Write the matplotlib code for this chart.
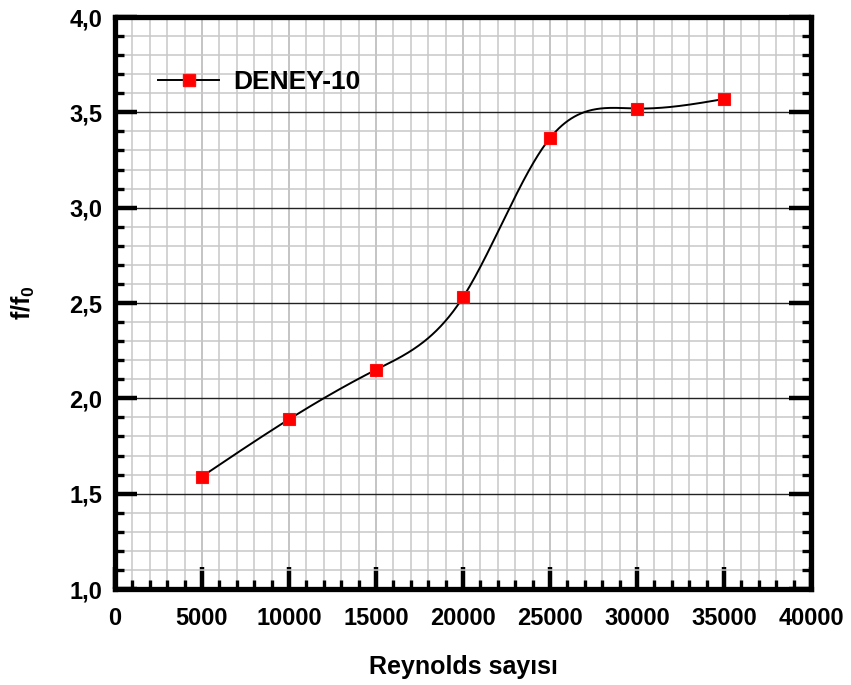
import numpy as np
import matplotlib
matplotlib.use("Agg")
import matplotlib.pyplot as plt
from matplotlib.ticker import MultipleLocator, FuncFormatter

plt.rcParams['font.family'] = ['Liberation Sans', 'DejaVu Sans']
plt.rcParams['mathtext.default'] = 'regular'

reynolds = [5000, 10000, 15000, 20000, 25000, 30000, 35000]
f_ratio = [1.59, 1.89, 2.15, 2.53, 3.365, 3.52, 3.57]
series_name = "DENEY-10"
x_label = "Reynolds sayısı"
y_label = "f/f$_0$"


def natural_spline(x, y, xs):
    x = np.asarray(x, float); y = np.asarray(y, float)
    n = len(x); h = np.diff(x)
    A = np.zeros((n, n)); b = np.zeros(n)
    A[0, 0] = 1; A[-1, -1] = 1
    for i in range(1, n - 1):
        A[i, i - 1] = h[i - 1]; A[i, i] = 2 * (h[i - 1] + h[i]); A[i, i + 1] = h[i]
        b[i] = 6 * ((y[i + 1] - y[i]) / h[i] - (y[i] - y[i - 1]) / h[i - 1])
    M = np.linalg.solve(A, b)
    idx = np.clip(np.searchsorted(x, xs) - 1, 0, n - 2)
    x0 = x[idx]; x1 = x[idx + 1]; hh = h[idx]
    return (M[idx] * (x1 - xs) ** 3 / (6 * hh) + M[idx + 1] * (xs - x0) ** 3 / (6 * hh)
            + (y[idx] / hh - M[idx] * hh / 6) * (x1 - xs)
            + (y[idx + 1] / hh - M[idx + 1] * hh / 6) * (xs - x0))


fig = plt.figure(figsize=(8.51, 6.85), dpi=100)
ax = fig.add_axes([115 / 851, 1 - 589 / 685, 696 / 851, 572 / 685])

ax.set_xlim(0, 40000)
ax.set_ylim(1.0, 4.0)

ax.xaxis.set_major_locator(MultipleLocator(5000))
ax.xaxis.set_minor_locator(MultipleLocator(1000))
ax.yaxis.set_major_locator(MultipleLocator(0.5))
ax.yaxis.set_minor_locator(MultipleLocator(0.1))
ax.grid(which='minor', color='#c8c8c8', lw=1.1)
ax.grid(which='major', axis='x', color='#b4b4b4', lw=1.1)
ax.grid(which='major', axis='y', color='#222222', lw=1.0)
ax.set_axisbelow(True)

xs = np.linspace(min(reynolds), max(reynolds), 500)
ax.plot(xs, natural_spline(reynolds, f_ratio, xs), color='black', lw=1.4, zorder=3)
ax.plot(reynolds, f_ratio, ls='none', marker='s', ms=8.5, mfc='#ff0000', mec='#ff1010', mew=0.8, zorder=4)

ax.plot([], [], color='black', lw=1.4, marker='s', ms=8.5, mfc='#ff0000', mec='#ff1010', label=series_name)
ax.legend(loc='upper left', bbox_to_anchor=(0.028, 0.948), frameon=False,
          prop={'weight': 'bold', 'size': 19}, handlelength=2.3, handletextpad=0.55)

for s in ax.spines.values():
    s.set_linewidth(3.8)

ax.tick_params(which='major', direction='in', length=16, width=3.2, right=True, top=False,
               labelsize=17, pad=9)
ax.tick_params(which='minor', direction='in', length=6.5, width=2.4, right=True, top=False)
ax.tick_params(axis='x', which='major', pad=13)
ax.yaxis.set_major_formatter(FuncFormatter(lambda v, p: f"{v:.1f}".replace('.', ',')))
ax.xaxis.set_major_formatter(FuncFormatter(lambda v, p: f"{int(v)}"))
for lab in ax.get_xticklabels() + ax.get_yticklabels():
    lab.set_fontweight('bold')

ax.set_xlabel(x_label, fontsize=18, fontweight='bold')
ax.set_ylabel(y_label, fontsize=18, fontweight='bold')
ax.xaxis.set_label_coords(0.5, -0.115)
ax.yaxis.set_label_coords(-0.112, 0.5)

fig.savefig("out.png", dpi=100)
